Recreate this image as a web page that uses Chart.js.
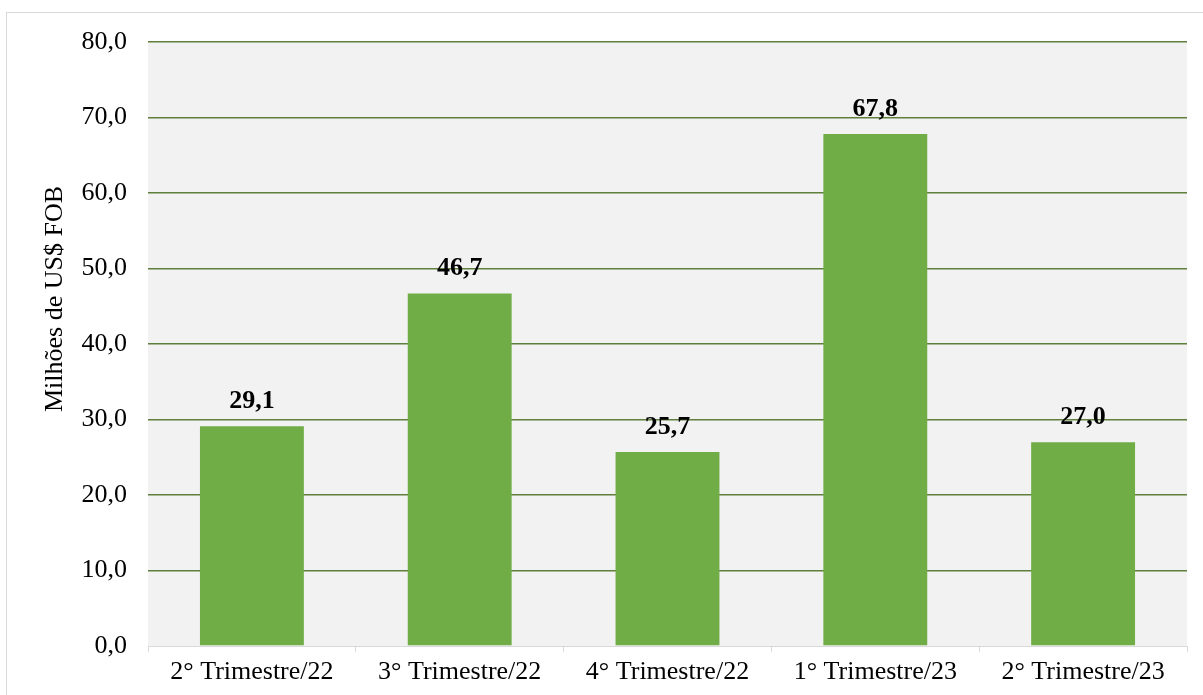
<!DOCTYPE html>
<html>
<head>
<meta charset="utf-8">
<script src="https://cdn.jsdelivr.net/npm/chart.js@4"></script>
<style>
    html, body { margin: 0; padding: 0; background: #ffffff; }
    #wrap { width: 1203px; height: 695px; position: relative; }
</style>
</head>
<body>
<div id="wrap"><canvas id="grafico"></canvas></div>
<script>
// Dados do gráfico
const trimestres = ['2° Trimestre/22', '3° Trimestre/22', '4° Trimestre/22', '1° Trimestre/23', '2° Trimestre/23'];
const valores = [29.1, 46.7, 25.7, 67.8, 27.0];
const tituloEixoY = 'Milhões de US$ FOB';
const fonteSerif = "'Liberation Serif', 'Times New Roman', serif";

function formatoBR(v) {
    return v.toFixed(1).replace('.', ',');
}

// Fundo cinza da área do gráfico, moldura externa e título do eixo Y
const fundoPlugin = {
    id: 'fundo',
    beforeDraw(chart) {
        const ctx = chart.ctx;
        const a = chart.chartArea;
        ctx.save();
        ctx.strokeStyle = '#d9d9d9';
        ctx.lineWidth = 1;
        ctx.strokeRect(6.5, 12.5, 1300, 800);
        ctx.fillStyle = '#f2f2f2';
        ctx.fillRect(a.left, a.top, a.right - a.left, a.bottom - a.top);
        // título do eixo Y (um pouco acima do centro, como no original)
        ctx.translate(55, 299);
        ctx.rotate(-Math.PI / 2);
        ctx.font = '26px ' + fonteSerif;
        ctx.fillStyle = '#000000';
        ctx.textAlign = 'center';
        ctx.textBaseline = 'middle';
        ctx.fillText(tituloEixoY, 0, 0);
        ctx.restore();
    }
};

// Rótulos de valor acima das barras
const rotulosPlugin = {
    id: 'rotulos',
    afterDatasetsDraw(chart) {
        const ctx = chart.ctx;
        const meta = chart.getDatasetMeta(0);
        ctx.save();
        ctx.font = 'bold 26px ' + fonteSerif;
        ctx.fillStyle = '#000000';
        ctx.textAlign = 'center';
        ctx.textBaseline = 'alphabetic';
        meta.data.forEach((bar, i) => {
            ctx.fillText(formatoBR(valores[i]), bar.x, bar.y - 18);
        });
        ctx.restore();
    }
};

const ctx = document.getElementById('grafico').getContext('2d');
new Chart(ctx, {
    type: 'bar',
    data: {
        labels: trimestres,
        datasets: [{
            data: valores,
            backgroundColor: '#70ad47',
            borderWidth: 0,
            barPercentage: 0.5,
            categoryPercentage: 1.0
        }]
    },
    options: {
        responsive: true,
        maintainAspectRatio: false,
        animation: false,
        layout: { padding: { top: 42, right: 16, left: 0, bottom: 0 } },
        plugins: {
            legend: { display: false },
            tooltip: { enabled: false }
        },
        scales: {
            x: {
                afterFit(scale) { scale.height = 49; },
                grid: {
                    display: true,
                    offset: true,
                    drawOnChartArea: false,
                    drawTicks: true,
                    tickLength: 6,
                    color: '#d9d9d9'
                },
                border: { display: true, color: '#d9d9d9', width: 1 },
                ticks: {
                    color: '#000000',
                    padding: 5,
                    maxRotation: 0,
                    autoSkip: false,
                    font: { family: fonteSerif, size: 26 }
                }
            },
            y: {
                min: 0,
                max: 80,
                afterFit(scale) { scale.width = 148; },
                ticks: {
                    stepSize: 10,
                    color: '#000000',
                    padding: 21,
                    font: { family: fonteSerif, size: 26 },
                    callback: v => formatoBR(v)
                },
                grid: {
                    drawTicks: false,
                    lineWidth: 1.5,
                    color: c => c.tick && c.tick.value === 0 ? 'rgba(0,0,0,0)' : '#5f7f3c'
                },
                border: { display: false }
            }
        }
    },
    plugins: [fundoPlugin, rotulosPlugin]
});
</script>
</body>
</html>
